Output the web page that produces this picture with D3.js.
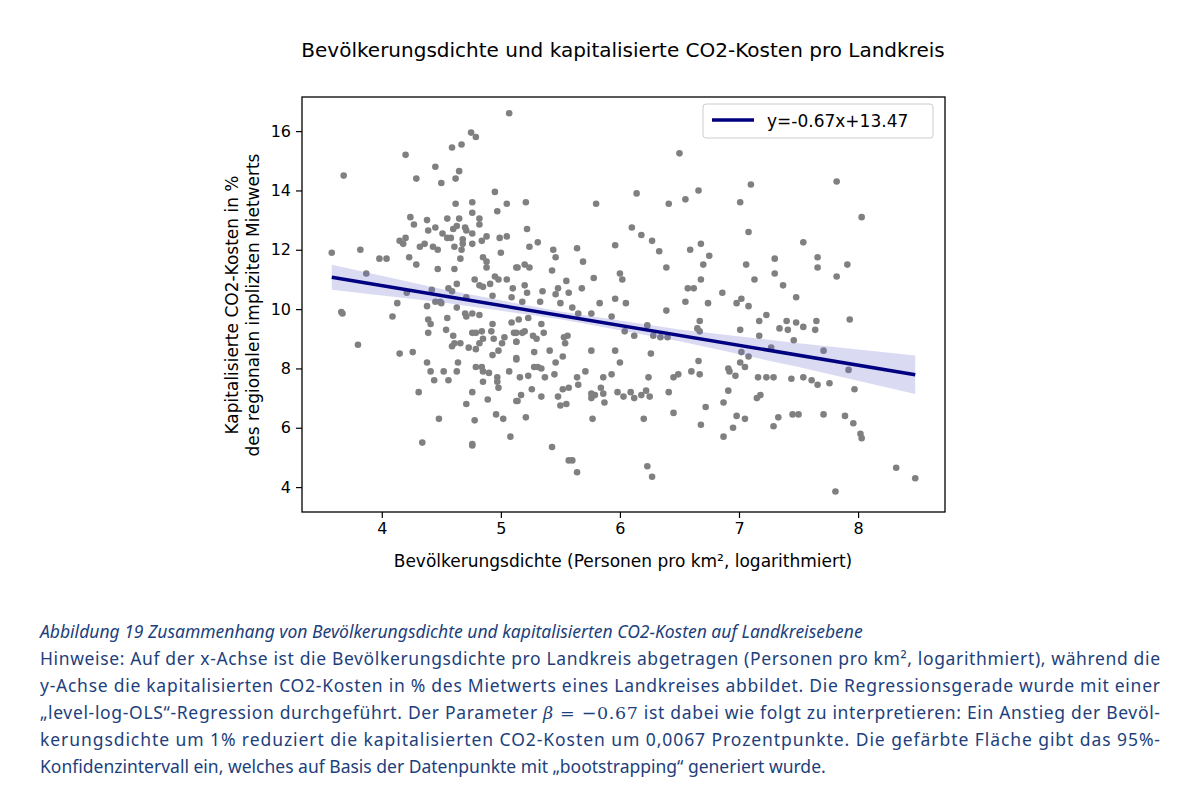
<!DOCTYPE html>
<html>
<head>
<meta charset="utf-8">
<script src="https://cdn.jsdelivr.net/npm/d3@7"></script>
<style>
  body { margin: 0; background: #fff; }
  svg { display: block; }
</style>
</head>
<body>
<svg id="chart" width="1200" height="798"></svg>
<script>
// point cloud: [log density, CO2 cost %]
var points = [
  [3.68,14.5],[3.58,11.9],[3.82,12.0],[3.98,11.7],[4.04,11.7],[3.87,11.2],[4.2,15.2],[4.29,14.4],[4.45,14.8],[4.5,14.25],
  [4.59,15.45],[4.67,15.55],[4.75,15.95],[4.79,15.8],[5.07,16.6],[4.65,14.65],[4.62,14.4],
  [6.5,15.25],[6.14,13.9],[6.66,14.0],[6.55,13.7],[6.41,13.55],[5.8,13.55],[5.21,13.6],[5.22,12.7],[5.24,12.1],
  [5.31,12.25],[5.44,12.0],[5.46,11.75],[5.64,12.05],[5.69,11.6],[5.96,12.15],[6.1,12.75],[6.18,12.5],[6.27,12.3],
  [6.33,11.95],[6.39,11.4],[6.59,12.0],[6.68,12.2],[6.75,11.8],[6.7,11.5],[6.68,11.0],[6.57,10.7],[6.62,10.7],
  [6.86,10.55],[5.14,11.4],[5.2,11.5],[5.24,11.4],[5.43,11.3],[5.78,11.05],[6.0,11.2],[6.02,11.0],[5.55,10.95],
  [5.68,10.7],[5.48,10.7],[5.35,10.6],[5.57,10.55],[5.46,10.5],[5.2,10.8],[5.22,10.55],[5.83,10.2],[5.96,10.35],
  [6.05,10.2],[6.55,10.25],[6.74,10.2],
  [7.1,14.2],[7.82,14.3],[7.01,13.6],[8.03,13.1],[7.08,12.6],[7.54,12.25],[7.3,11.7],[7.66,11.75],[7.66,11.4],
  [7.91,11.5],[7.06,11.5],[7.3,11.2],[7.13,11.0],[7.37,10.8],[7.82,11.1],[7.48,10.4],[7.02,10.35],[6.98,10.2],
  [7.08,10.1],[7.23,9.8],[7.17,9.6],[7.4,9.6],[7.48,9.55],[7.54,9.4],[7.65,9.6],[7.93,9.65],[7.01,9.3],[7.34,9.35],
  [7.41,9.3],[7.64,9.3],[7.17,9.1],[7.46,8.95],[7.27,8.7],[7.71,8.6],[7.02,8.55],[7.08,8.4],[7.01,8.2],[7.05,8.05],
  [7.92,7.95],[6.97,7.75],[7.16,7.7],[7.23,7.7],[7.29,7.7],[7.44,7.65],[7.54,7.7],[7.61,7.6],[7.66,7.45],[7.76,7.5],
  [7.97,7.3],[7.15,7.0],[7.18,7.1],[6.98,6.4],[7.05,6.3],[6.95,6.0],[7.33,6.35],[7.29,6.05],[7.45,6.45],[7.5,6.45],
  [7.71,6.45],[7.89,6.4],[7.96,6.15],[8.02,5.8],[8.03,5.65],[8.32,4.65],[8.48,4.3],[7.81,3.85],
  [5.18,10.25],[5.33,10.25],[5.5,10.2],[5.6,10.05],[6.39,9.95],[5.15,9.65],[5.23,9.7],[5.34,9.5],[5.65,9.85],
  [5.76,9.85],[5.93,9.75],[6.23,9.45],[6.04,9.25],[6.12,9.1],[6.28,9.1],[6.34,9.05],[6.4,9.05],[6.67,9.6],[6.65,9.35],
  [6.67,9.25],[5.13,9.2],[5.18,9.2],[5.2,9.25],[5.27,9.1],[5.3,9.0],[5.36,9.2],[5.13,8.9],[5.53,9.05],[5.56,9.1],
  [5.54,8.85],[5.28,8.55],[5.41,8.6],[5.13,8.35],[5.52,8.4],[5.76,8.6],[5.96,8.6],[6.0,8.2],[6.26,8.5],[5.46,8.2],
  [5.31,8.05],[5.28,8.05],[5.34,8.0],[5.16,7.7],[5.23,7.75],[5.37,7.7],[5.45,7.8],[5.71,7.9],[5.86,7.7],[5.93,7.8],
  [5.64,7.7],[5.65,7.45],[6.24,7.7],[6.45,7.7],[6.49,7.8],[6.6,7.9],[6.67,7.8],[6.66,8.25],[6.91,8.0],[5.17,7.1],
  [5.14,6.9],[5.26,7.3],[5.34,7.05],[5.48,7.05],[5.52,7.3],[5.57,7.35],[5.76,7.0],[5.76,7.15],[5.79,7.1],[5.84,7.35],
  [5.86,7.15],[5.87,6.85],[5.98,7.2],[6.03,7.05],[6.09,7.2],[6.12,7.0],[6.18,7.1],[6.22,7.25],[6.25,7.05],[6.41,7.2],
  [5.5,6.75],[5.55,6.8],[5.21,6.35],[5.77,6.3],[6.2,6.3],[6.45,6.5],[6.72,6.7],[6.68,6.1],[6.87,6.85],[6.91,7.25],
  [6.87,5.7],[5.43,5.35],[5.57,4.9],[5.6,4.9],[5.64,4.5],[6.23,4.7],[6.27,4.35],[6.92,7.9],
  [4.13,10.2],[4.38,10.1],[4.45,10.25],[4.5,10.2],[3.66,9.9],[3.67,9.85],[4.09,9.75],[4.39,9.65],[4.41,9.5],[4.55,9.7],
  [4.63,10.05],[4.7,9.85],[4.71,9.75],[4.76,9.85],[4.82,9.8],[4.39,9.2],[4.54,9.3],[4.6,9.1],[4.61,8.85],[4.66,8.85],
  [4.59,8.75],[4.76,9.2],[4.79,9.2],[4.84,9.25],[4.85,9.0],[4.82,8.85],[4.73,8.7],[4.79,8.65],[4.92,9.25],[4.94,9.0],
  [4.93,9.5],[5.03,9.05],[5.01,8.85],[4.98,8.6],[4.93,8.45],[5.09,9.55],[5.11,9.2],[5.13,8.9],[5.13,8.3],[3.8,8.8],
  [4.15,8.5],[4.26,8.55],[4.38,8.2],[4.41,7.9],[4.44,7.6],[4.52,7.9],[4.56,7.6],[4.63,7.9],[4.64,8.2],[4.79,8.05],
  [4.84,8.05],[4.85,7.9],[4.9,7.85],[4.85,7.55],[4.97,7.7],[4.97,7.55],[4.98,7.35],[5.07,7.9],[4.31,7.2],[4.76,7.2],
  [4.71,6.8],[4.89,6.95],[4.48,6.3],[4.78,6.25],[4.96,6.45],[5.02,6.3],[5.08,5.7],[4.34,5.5],[4.76,5.45],[4.76,5.4],
  [5.13,6.9],
  [4.95,13.95],[5.05,13.55],[4.97,13.3],[4.62,13.55],[4.76,13.6],[4.76,13.25],[4.24,13.1],[4.27,12.85],[4.38,13.0],
  [4.39,12.65],[4.45,12.75],[4.55,13.05],[4.65,13.05],[4.6,12.7],[4.63,12.8],[4.7,12.75],[4.71,12.65],[4.82,13.05],
  [4.82,12.85],[4.76,12.55],[4.51,12.55],[4.55,12.4],[4.58,12.4],[4.68,12.35],[4.68,12.2],[4.76,12.2],[4.84,12.3],
  [4.88,12.45],[4.99,12.4],[5.05,12.45],[4.15,12.3],[4.18,12.2],[4.2,12.4],[4.32,12.1],[4.36,12.2],[4.43,12.1],
  [4.47,12.0],[4.61,12.1],[4.67,12.0],[4.23,11.75],[4.29,11.5],[4.66,11.7],[4.85,11.75],[4.88,11.6],[4.88,11.4],
  [5.0,11.9],[5.13,11.4],[4.47,11.35],[4.61,11.35],[4.78,11.0],[4.63,10.85],[4.82,10.8],[4.85,10.75],[4.91,10.85],
  [4.95,11.1],[4.98,11.0],[5.05,11.0],[4.42,10.65],[4.56,10.7],[4.59,10.6],[4.71,10.4],[4.93,10.45],[5.1,10.7],
  [5.09,10.4],[4.21,10.55],[4.49,10.25]
];

// regression y = slope*x + intercept, drawn between the data extremes
var slope = -0.67, intercept = 13.47;
var lineX = [3.58, 8.48];
// 95% bootstrap band: half width at a few x positions
var bandX = [3.58, 4.5, 5.5, 6.5, 7.5, 8.48];
var bandHalf = [0.42, 0.22, 0.13, 0.2, 0.4, 0.65];

var xTicks = [4, 5, 6, 7, 8];
var yTicks = [4, 6, 8, 10, 12, 14, 16];

var svg = d3.select("#chart");
var pLeft = 302, pRight = 945, pTop = 97, pBottom = 512;

var x = d3.scaleLinear().domain([3.33, 8.73]).range([pLeft, pRight]);
var y = d3.scaleLinear().domain([3.16, 17.15]).range([pBottom, pTop]);

svg.append("text").attr("x", 623).attr("y", 57).attr("text-anchor", "middle")
  .style("font", "20px 'DejaVu Sans'").text("Bevölkerungsdichte und kapitalisierte CO2-Kosten pro Landkreis");

// points
svg.append("g").selectAll("circle").data(points).join("circle")
  .attr("cx", d => x(d[0])).attr("cy", d => y(d[1])).attr("r", 3.3)
  .attr("fill", "#808080");

// confidence band
var area = d3.area().x(d => x(d))
  .y0((d, i) => y(slope * d + intercept - bandHalf[i]))
  .y1((d, i) => y(slope * d + intercept + bandHalf[i]));
svg.append("path").datum(bandX).attr("d", area).attr("fill", "#6a6acd").attr("opacity", 0.25);

svg.append("line")
  .attr("x1", x(lineX[0])).attr("y1", y(slope * lineX[0] + intercept))
  .attr("x2", x(lineX[1])).attr("y2", y(slope * lineX[1] + intercept))
  .attr("stroke", "#000080").attr("stroke-width", 3.5);

// axes
var xa = svg.append("g").attr("transform", "translate(0," + pBottom + ")")
  .call(d3.axisBottom(x).tickValues(xTicks).tickFormat(d3.format("d")).tickSize(6).tickPadding(5));
var ya = svg.append("g").attr("transform", "translate(" + pLeft + ",0)")
  .call(d3.axisLeft(y).tickValues(yTicks).tickFormat(d3.format("d")).tickSize(6).tickPadding(5));
[xa, ya].forEach(g => {
  g.select(".domain").remove();
  g.selectAll("text").style("font", "16px 'DejaVu Sans'").attr("fill", "#000");
  g.selectAll("line").attr("stroke", "#000").attr("stroke-width", 1.2);
});
svg.append("rect").attr("x", pLeft).attr("y", pTop).attr("width", pRight - pLeft).attr("height", pBottom - pTop)
  .attr("fill", "none").attr("stroke", "#000").attr("stroke-width", 1.3);

svg.append("text").attr("x", 623).attr("y", 567).attr("text-anchor", "middle")
  .style("font", "17px 'DejaVu Sans'").text("Bevölkerungsdichte (Personen pro km², logarithmiert)");
var yl = svg.append("text").attr("transform", "translate(238,305) rotate(-90)").attr("text-anchor", "middle")
  .style("font", "17px 'DejaVu Sans'");
yl.append("tspan").attr("x", 0).attr("dy", 0).text("Kapitalisierte CO2-Kosten in %");
yl.append("tspan").attr("x", 0).attr("dy", 21).text("des regionalen impliziten Mietwerts");

// legend
svg.append("rect").attr("x", 703).attr("y", 104).attr("width", 230).attr("height", 34).attr("rx", 3)
  .attr("fill", "#fff").attr("stroke", "#ccc");
svg.append("line").attr("x1", 712).attr("x2", 754).attr("y1", 120).attr("y2", 120)
  .attr("stroke", "#000080").attr("stroke-width", 3.5);
svg.append("text").attr("x", 767).attr("y", 127).style("font", "17px 'DejaVu Sans'").text("y=-0.67x+13.47");

// caption
var capColor = "#1d3f7c";
var capFont = "17.5px 'Noto Sans'";
svg.append("text").attr("x", 40).attr("y", 638).attr("fill", capColor)
  .style("font", "italic " + capFont)
  .text("Abbildung 19 Zusammenhang von Bevölkerungsdichte und kapitalisierten CO2-Kosten auf Landkreisebene");
var capLines = [
  "Hinweise: Auf der x-Achse ist die Bevölkerungsdichte pro Landkreis abgetragen (Personen pro km², logarithmiert), während die",
  "y-Achse die kapitalisierten CO2-Kosten in % des Mietwerts eines Landkreises abbildet. Die Regressionsgerade wurde mit einer",
  null,
  "kerungsdichte um 1% reduziert die kapitalisierten CO2-Kosten um 0,0067 Prozentpunkte. Die gefärbte Fläche gibt das 95%-",
  "Konfidenzintervall ein, welches auf Basis der Datenpunkte mit „bootstrapping“ generiert wurde."
];
capLines.forEach((t, i) => {
  var tx = svg.append("text").attr("x", 40).attr("y", 665 + i * 27).attr("fill", capColor).style("font", capFont);
  if (t === null) {
    tx.append("tspan").text("„level-log-OLS“-Regression durchgeführt. Der Parameter ");
    tx.append("tspan").style("font-style", "italic").style("font-family", "'DejaVu Serif'").text("β");
    tx.append("tspan").style("font-family", "'DejaVu Serif'").text(" = −0.67");
    tx.append("tspan").text(" ist dabei wie folgt zu interpretieren: Ein Anstieg der Bevöl-");
  } else {
    tx.text(t);
  }
  if (i < 4) tx.attr("textLength", 1120).attr("lengthAdjust", "spacing");
});
</script>
</body>
</html>
